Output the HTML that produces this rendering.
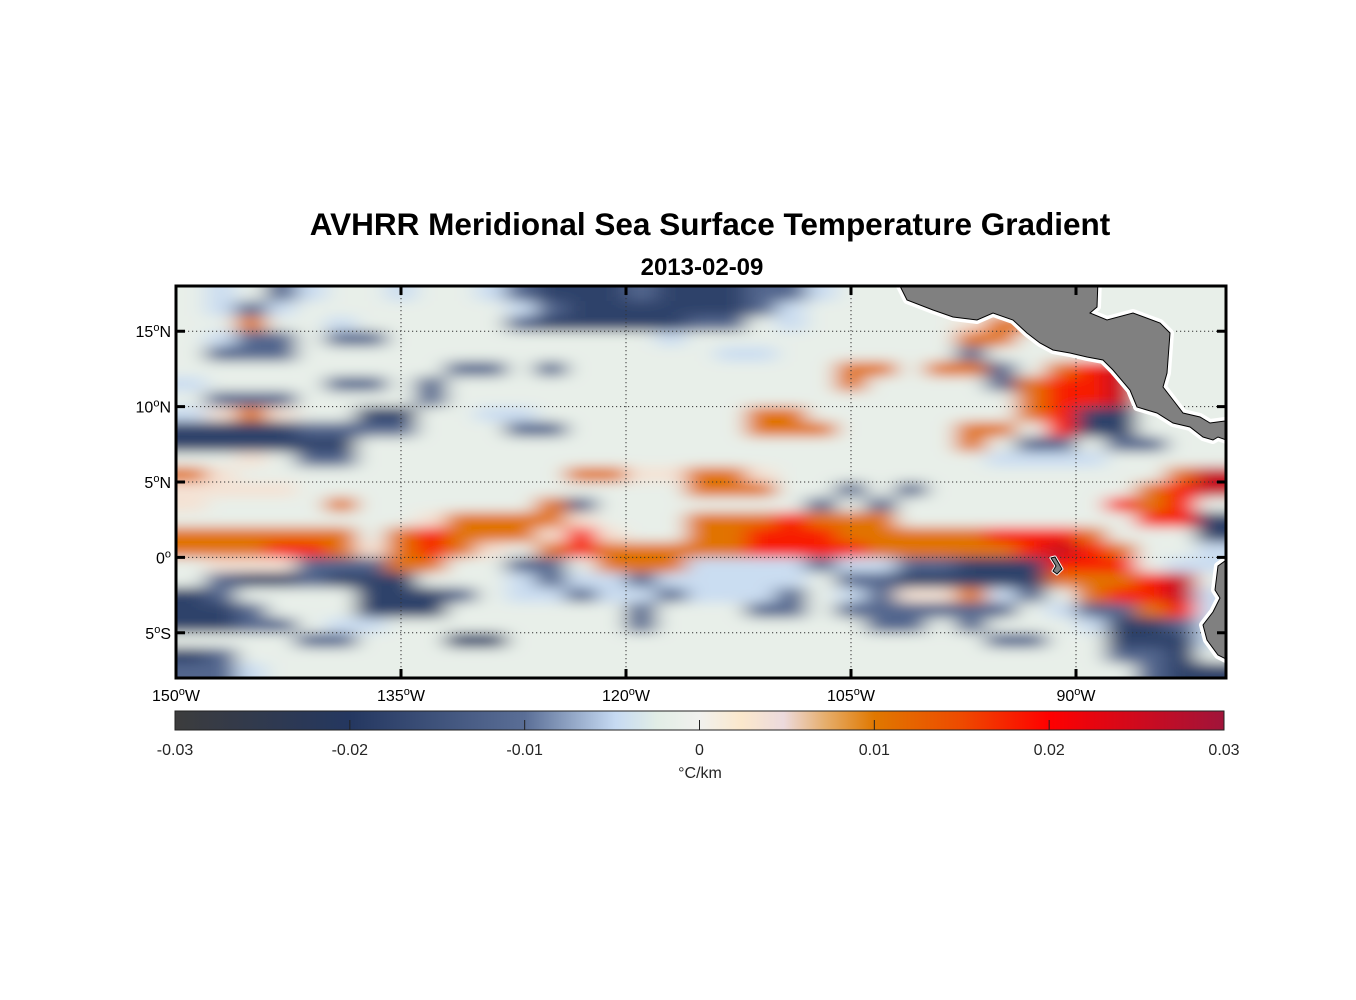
<!DOCTYPE html>
<html><head><meta charset="utf-8">
<style>
html,body{margin:0;padding:0;background:#fff;}
svg{display:block;font-family:"Liberation Sans",Arial,sans-serif;}
</style></head>
<body>
<svg id="chart" width="1356" height="1000" viewBox="0 0 1356 1000" xmlns="http://www.w3.org/2000/svg">
<defs>
  <clipPath id="mapClip"><rect x="176" y="286" width="1050" height="392"/></clipPath>
  <filter id="smooth" x="-5%" y="-5%" width="110%" height="110%"><feGaussianBlur stdDeviation="11 6"/></filter>
  <linearGradient id="cbGrad" x1="0" x2="1" y1="0" y2="0">
    <stop offset="0" stop-color="#3c3c3d"/>
    <stop offset="0.1667" stop-color="#243760"/>
    <stop offset="0.3333" stop-color="#5a6e96"/>
    <stop offset="0.42" stop-color="#c6daf2"/>
    <stop offset="0.46" stop-color="#e2eee6"/>
    <stop offset="0.5" stop-color="#f1f1ee"/>
    <stop offset="0.54" stop-color="#fbe8cc"/>
    <stop offset="0.58" stop-color="#ecdadd"/>
    <stop offset="0.62" stop-color="#e6ae6c"/>
    <stop offset="0.6667" stop-color="#e07800"/>
    <stop offset="0.75" stop-color="#ee4a00"/>
    <stop offset="0.8333" stop-color="#ff0000"/>
    <stop offset="1" stop-color="#a0143a"/>
  </linearGradient>
</defs>
<text x="710" y="235" text-anchor="middle" font-size="31.5" font-weight="bold" fill="#000">AVHRR Meridional Sea Surface Temperature Gradient</text>
<text x="702" y="275" text-anchor="middle" font-size="24" font-weight="bold" fill="#000">2013-02-09</text>
<rect x="176" y="286" width="1050" height="392" fill="#ebf1f1"/>
<g id="mapLayer" clip-path="url(#mapClip)">
  <g id="cells" filter="url(#smooth)"></g>
  <g id="grid"></g>
  <g id="land"></g>
</g>
<g id="frame"></g>
<g id="axes"></g>
<g id="colorbar"></g>
</svg>
<script>
const NS="http://www.w3.org/2000/svg";
// ---- data ----
const lonStart=-150, lonStep=2;
const latTop=18, latStep=1;
const levelCodes=['.','-','d','D','+','o','r','R'];
const levelValues=[-0.0015,-0.0045,-0.0115,-0.018,0.0035,0.0105,0.018,0.026];
const gridRows=[
".-.d- ..-.. -dDDD dDDDd d-... ..... .....",
".-d-. ..... .-dDD DDDDd -.... ..... .....",
"..o.. -.... .dDDD DDdd. -.... .+oo. .....",
".-dd. dd... ..... .-... ..... .oo.. .....",
".ddd. ..... ..... ...-- ..... .d... .....",
"..... ....d d.d.. ..... ..oo. ood.o rR...",
"-.... dd.d. ..... ..... ..o.. ..dor rR...",
".ddd. ...d. ..... ..... ..... ...or rR...",
"-+o+. .DD.. --... ....o o.... ...or DD...",
"DDDDd ddd.. .dd.. ....o oo... .oo.r DD...",
"DDDDD D.... ..... ..... ..... .o.dd .dd..",
"..+.d d.... ..... ..... ..... ..--- -....",
"o+... ..... ...oo ++oo+ ..... ..... ...oR",
"++++. ..... ..... ..ooo ..d.d ..... ..orR",
"+.... o.... ..od. ..... .d.d. ..... .ror.",
"..... ...+o ooo+. ..ooo rooo. ..... ..rrD",
"ooooo o.oro oo+r+ ..oor rrooo oorrr o...D",
"ooorr o+oro +.oro oooor rrroo ooorR ro..-",
".+++d ddoo. .dd.o oo--- -d--d dDDDr rr.--",
".dDDd DDD.. .-d-- d---- -.ddD DDDDo oorR.",
"Dd... .DDDd .--d- -d--- d.-d+ +o-d. orrR-",
"DDd.. .DDD. ..... d...d d.ddd ddd.- ddor-",
"DDdd. --... ..... d.... ...dd .d... -DDd-",
"....d d...D D.... ..... ..... ..dd. .DDD-",
"Dd... ..... ..... ..... ..... ..... .ddD.",
"dd-.. ..... ..... ..... ..... ..... ..dDD"
];
const lonTicks=[-150,-135,-120,-105,-90];
const lonTickLabels=["150","135","120","105","90"];
const latTicks=[15,10,5,0,-5];
const latTickLabels=["15","10","5","0","5"];
const latTickSuffix=["N","N","N","",'S'];
const cbTicks=[-0.03,-0.02,-0.01,0,0.01,0.02,0.03];
const cbTickLabels=["-0.03","-0.02","-0.01","0","0.01","0.02","0.03"];
const cmapVals=[-0.03,-0.02,-0.01,-0.0048,-0.0024,0,0.0024,0.0048,0.0072,0.01,0.015,0.02,0.03];
const cmapCols=["#3c3c3d","#243760","#5a6e96","#c6daf2","#e2eee6","#f1f1ee","#fbe8cc","#ecdadd","#e6ae6c","#e07800","#ee4a00","#ff0000","#a0143a"];
// ---- scales ----
const X0=176,X1=1226,Y0=286,Y1=678;
function xScale(lon){return X0+(lon+150)*(X1-X0)/70;}
function yScale(lat){return Y0+(18-lat)*(Y1-Y0)/26;}
function cbScale(v){return 175+(v+0.03)*(1224-175)/0.06;}
function hex(c){return [parseInt(c.slice(1,3),16),parseInt(c.slice(3,5),16),parseInt(c.slice(5,7),16)];}
function colorOf(v){
  if(v<=cmapVals[0])return cmapCols[0];
  for(let i=1;i<cmapVals.length;i++){
    if(v<=cmapVals[i]){
      const t=(v-cmapVals[i-1])/(cmapVals[i]-cmapVals[i-1]);
      const a=hex(cmapCols[i-1]),b=hex(cmapCols[i]);
      return "rgb("+a.map((x,k)=>Math.round(x+(b[k]-x)*t)).join(",")+")";
    }
  }
  return cmapCols[cmapCols.length-1];
}
function mk(tag,attrs,parent){const e=document.createElementNS(NS,tag);for(const k in attrs)e.setAttribute(k,attrs[k]);parent.appendChild(e);return e;}
// ---- heatmap cells ----
const cellsG=document.getElementById('cells');
gridRows.forEach((rowStr,j)=>{
  const row=rowStr.replace(/ /g,'');
  for(let c=0;c<row.length;c++){
    const v=levelValues[levelCodes.indexOf(row[c])];
    const lonA=lonStart+c*lonStep, lonB=lonA+lonStep;
    const latA=latTop-j*latStep, latB=latA-latStep;
    let x=xScale(lonA), w=xScale(lonB)-x, y=yScale(latA), h=yScale(latB)-y;
    if(c===0){x-=30;w+=30;} if(c===row.length-1){w+=30;}
    if(j===0){y-=20;h+=20;} if(j===gridRows.length-1){h+=20;}
    const r=mk('rect',{x:x,y:y,width:w+0.5,height:h+0.5,fill:colorOf(v)},cellsG);
    
    
  }
});
// ---- gridlines ----
const gridG=document.getElementById('grid');
lonTicks.forEach(lon=>{
  const l=mk('line',{x1:xScale(lon),x2:xScale(lon),y1:Y0,y2:Y1,stroke:"#333","stroke-width":1,"stroke-dasharray":"1.2 2.8"},gridG);
  
  
});
latTicks.forEach(lat=>{
  const l=mk('line',{x1:X0,x2:X1,y1:yScale(lat),y2:yScale(lat),stroke:"#333","stroke-width":1,"stroke-dasharray":"1.2 2.8"},gridG);
  
  
});
// ---- land ----
const landG=document.getElementById('land');
const ca="897,280 1098,280 1097,307 1090,313 1107,320 1133,313 1160,323 1170,333 1167,373 1163,387 1173,400 1183,413 1200,417 1210,423 1232,420 1232,442 1218,437 1213,440 1203,437 1190,427 1173,423 1157,413 1137,407 1130,390 1113,370 1103,360 1087,357 1070,353 1053,350 1040,343 1027,333 1013,320 993,313 977,320 953,317 933,310 907,300";
const sa="1232,556 1218,566 1215,590 1220,598 1213,612 1203,625 1207,640 1218,655 1232,662";
const gal="1051,558 1055,557 1062,569 1057,574 1053,571 1056,566";
[[ca,8],[sa,8],[gal,3]].forEach(p=>{
  const halo=mk('polygon',{points:p[0],fill:"#fff",stroke:"#fff","stroke-width":p[1],"stroke-linejoin":"round"},landG);
  
  
});
[[ca,'central-america-land'],[sa,'south-america-land'],[gal,'galapagos-islands']].forEach(p=>{
  const e=mk('polygon',{points:p[0],fill:"#808080",stroke:"#000","stroke-width":1},landG);
  
  
});
// ---- frame & ticks ----
const frameG=document.getElementById('frame');
const fr=mk('rect',{x:X0,y:Y0,width:X1-X0,height:Y1-Y0,fill:"none",stroke:"#000","stroke-width":3},frameG);


lonTicks.forEach(lon=>{
  const x=xScale(lon);
  const t1=mk('line',{x1:x,x2:x,y1:Y0,y2:Y0+9,stroke:"#000","stroke-width":3},frameG);
  
  
  const t2=mk('line',{x1:x,x2:x,y1:Y1-9,y2:Y1,stroke:"#000","stroke-width":3},frameG);
  
  
});
latTicks.forEach(lat=>{
  const y=yScale(lat);
  const t1=mk('line',{x1:X0,x2:X0+9,y1:y,y2:y,stroke:"#000","stroke-width":3},frameG);
  
  
  const t2=mk('line',{x1:X1-9,x2:X1,y1:y,y2:y,stroke:"#000","stroke-width":3},frameG);
  
  
});
// ---- axis labels ----
const axesG=document.getElementById('axes');
function degLabel(parent,x,y,anchor,num,suffix,name){
  const t=mk('text',{x:x,y:y,"text-anchor":anchor,"font-size":16,fill:"#000"},parent);
  
  
  const a=document.createElementNS(NS,'tspan');a.textContent=num;t.appendChild(a);
  const b=document.createElementNS(NS,'tspan');b.setAttribute('dy','-6');b.setAttribute('font-size','11');b.textContent='o';t.appendChild(b);
  const c=document.createElementNS(NS,'tspan');c.setAttribute('dy','6');c.textContent=suffix;t.appendChild(c);
}
lonTicks.forEach((lon,i)=>degLabel(axesG,xScale(lon),701,'middle',lonTickLabels[i],'W','x-tick-label'));
latTicks.forEach((lat,i)=>degLabel(axesG,171,yScale(lat)+6,'end',latTickLabels[i],latTickSuffix[i],'y-tick-label'));
// ---- colorbar ----
const cbG=document.getElementById('colorbar');
const cb=mk('rect',{x:175,y:711,width:1049,height:19,fill:"url(#cbGrad)",stroke:"#222","stroke-width":1},cbG);


cbTicks.forEach((v,i)=>{
  const x=cbScale(v);
  if(i>0&&i<cbTicks.length-1){
    const tk=mk('line',{x1:x,x2:x,y1:720,y2:730,stroke:"#222","stroke-width":1},cbG);
    
    
  }
  const tl=mk('text',{x:x,y:755,"text-anchor":"middle","font-size":16,fill:"#262626"},cbG);
  tl.textContent=cbTickLabels[i];
  
  
});
const unit=mk('text',{x:700,y:778,"text-anchor":"middle","font-size":16,fill:"#262626"},cbG);
unit.textContent="°C/km";


</script>
</body></html>
